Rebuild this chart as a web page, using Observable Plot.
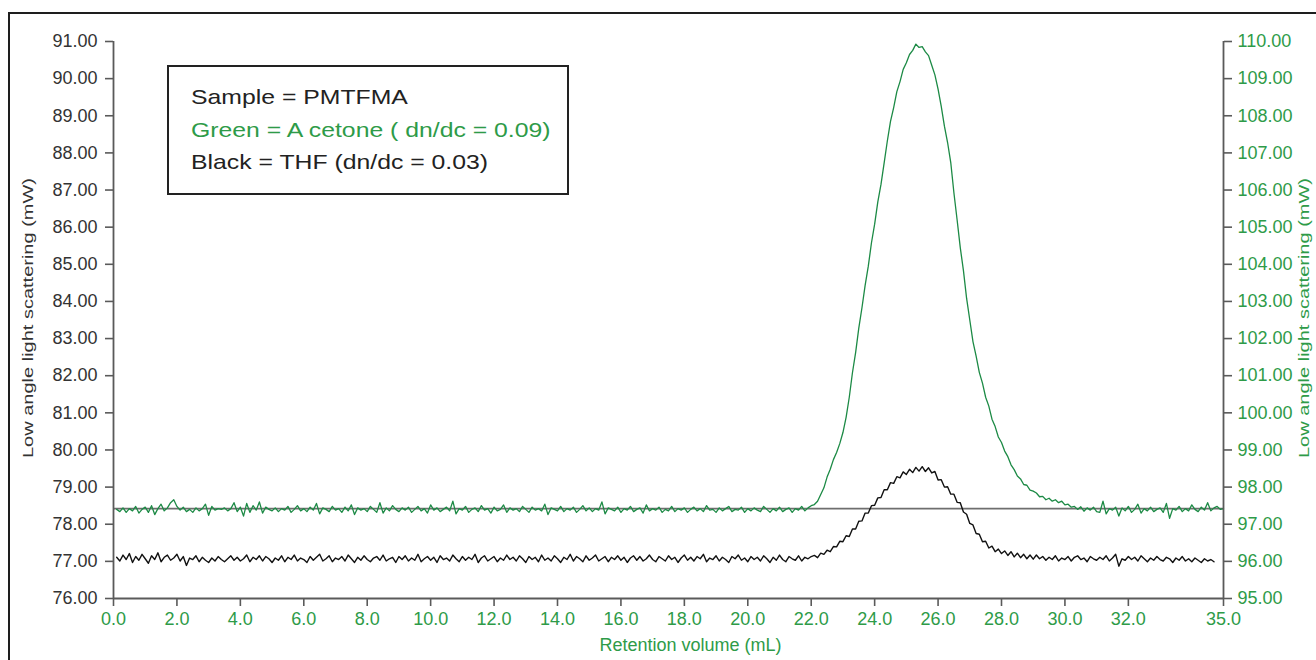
<!DOCTYPE html>
<html>
<head>
<meta charset="utf-8">
<script src="https://cdn.jsdelivr.net/npm/d3@7"></script>
<script src="https://cdn.jsdelivr.net/npm/@observablehq/plot@0.6"></script>
<style>
  html, body { margin: 0; padding: 0; background: #fff; overflow: hidden; width: 1316px; height: 660px; }
  #chart { position: absolute; left: 0; top: 0; }
  #frame { position: absolute; left: 8px; top: 12px; width: 2000px; height: 2000px; border: 2px solid #1e1e1e; pointer-events: none; }
  #legend { position: absolute; left: 167px; top: 65px; width: 398px; height: 126px; border: 2px solid #222;
            font-family: "Liberation Sans", Arial, sans-serif; font-size: 21px; padding: 0; box-sizing: content-box; background: #fff; }
  #legend div { position: absolute; left: 22px; height: 32px; line-height: 32px; white-space: nowrap; transform: scaleX(1.18); transform-origin: left center; }
</style>
</head>
<body>
<div id="chart"></div>
<div id="frame"></div>
<div id="legend"></div>
<script>
// ---- Data ----
const volumeStart = 0.1;   // mL, first sample
const volumeStep = 0.1;    // mL between samples

// Green trace: Acetone, right axis (mW)
const acetoneSignal = [
  97.40, 97.34, 97.44, 97.32, 97.42, 97.36, 97.48, 97.30, 97.40, 97.46,
  97.32, 97.50, 97.26, 97.42, 97.54, 97.36, 97.44, 97.58, 97.66, 97.48,
  97.38, 97.46, 97.34, 97.40, 97.32, 97.44, 97.36, 97.42, 97.54, 97.24,
  97.48, 97.38, 97.42, 97.40, 97.44, 97.36, 97.42, 97.58, 97.34, 97.46,
  97.22, 97.56, 97.32, 97.50, 97.38, 97.60, 97.30, 97.46, 97.40, 97.36,
  97.44, 97.34, 97.42, 97.38, 97.48, 97.32, 97.40, 97.50, 97.36, 97.42,
  97.34, 97.46, 97.38, 97.56, 97.28, 97.44, 97.40, 97.34, 97.48, 97.38,
  97.42, 97.32, 97.46, 97.36, 97.52, 97.26, 97.44, 97.38, 97.42, 97.34,
  97.48, 97.40, 97.32, 97.58, 97.30, 97.44, 97.36, 97.50, 97.40, 97.34,
  97.44, 97.38, 97.46, 97.32, 97.40, 97.48, 97.36, 97.42, 97.30, 97.52,
  97.38, 97.44, 97.34, 97.40, 97.46, 97.36, 97.62, 97.28, 97.42, 97.38,
  97.48, 97.32, 97.40, 97.44, 97.34, 97.50, 97.38, 97.42, 97.30, 97.46,
  97.36, 97.40, 97.52, 97.32, 97.44, 97.38, 97.42, 97.34, 97.48, 97.40,
  97.32, 97.46, 97.38, 97.42, 97.36, 97.54, 97.26, 97.44, 97.40, 97.36,
  97.48, 97.34, 97.42, 97.38, 97.46, 97.32, 97.40, 97.50, 97.36, 97.44,
  97.34, 97.42, 97.38, 97.60, 97.28, 97.44, 97.40, 97.36, 97.46, 97.32,
  97.42, 97.38, 97.48, 97.34, 97.40, 97.44, 97.30, 97.52, 97.36, 97.42,
  97.38, 97.46, 97.32, 97.40, 97.36, 97.48, 97.34, 97.42, 97.38, 97.44,
  97.32, 97.40, 97.46, 97.36, 97.42, 97.34, 97.50, 97.38, 97.40, 97.32,
  97.44, 97.36, 97.42, 97.48, 97.34, 97.40, 97.38, 97.46, 97.32, 97.42,
  97.36, 97.44, 97.38, 97.34, 97.48, 97.40, 97.32, 97.42, 97.36, 97.46,
  97.34, 97.40, 97.44, 97.32, 97.42, 97.38, 97.48, 97.36, 97.44, 97.50,
  97.53, 97.62, 97.80, 97.98, 98.27, 98.48, 98.74, 98.93, 99.17, 99.47,
  99.88, 100.42, 101.08, 101.62, 102.28, 102.83, 103.43, 103.95, 104.58, 105.08,
  105.68, 106.15, 106.73, 107.32, 107.85, 108.22, 108.65, 108.92, 109.25, 109.43,
  109.65, 109.76, 109.93, 109.84, 109.86, 109.72, 109.62, 109.36, 109.10, 108.72,
  108.25, 107.72, 107.28, 106.74, 105.92, 105.20, 104.45, 103.83, 103.08, 102.50,
  101.92, 101.53, 101.09, 100.80, 100.42, 100.18, 99.83, 99.63, 99.35, 99.20,
  98.97, 98.82, 98.60, 98.47, 98.30, 98.22, 98.07, 98.05, 97.92, 97.89,
  97.84, 97.74, 97.75, 97.66, 97.70, 97.62, 97.66, 97.58, 97.62, 97.52,
  97.54, 97.46, 97.48, 97.40, 97.47, 97.35, 97.44, 97.38, 97.46, 97.34,
  97.32, 97.62, 97.28, 97.42, 97.38, 97.46, 97.22, 97.44, 97.36, 97.48,
  97.32, 97.40, 97.54, 97.30, 97.42, 97.36, 97.46, 97.34, 97.40, 97.44,
  97.32, 97.56, 97.16, 97.42, 97.38, 97.48, 97.34, 97.42, 97.36, 97.52,
  97.40, 97.34, 97.46, 97.38, 97.58, 97.36, 97.44, 97.48, 97.40, 97.42
];

// Black trace: THF, left axis (mW)
const thfSignal = [
  77.11, 77.01, 77.17, 77.05, 77.21, 76.97, 77.13, 77.03, 77.19, 77.07,
  76.95, 77.15, 77.05, 77.23, 76.99, 77.11, 77.17, 77.03, 77.09, 77.19,
  77.01, 77.13, 76.89, 77.09, 77.05, 77.15, 76.99, 77.11, 77.03, 76.97,
  77.09, 77.01, 77.13, 77.05, 76.99, 77.07, 77.15, 77.03, 77.11, 77.01,
  77.07, 77.17, 76.99, 77.11, 77.05, 77.15, 77.01, 77.13, 77.07, 76.97,
  77.09, 77.03, 77.15, 76.99, 77.11, 77.05, 77.17, 77.01, 77.09, 77.05,
  76.97, 77.13, 77.03, 77.11, 77.19, 77.01, 77.07, 77.15, 76.99, 77.09,
  77.05, 77.13, 77.01, 77.17, 77.07, 76.97, 77.11, 77.03, 77.15, 77.05,
  76.99, 77.09, 77.13, 77.03, 77.17, 77.01, 77.07, 77.11, 76.97, 77.13,
  77.05, 77.15, 77.01, 77.09, 77.03, 77.19, 76.99, 77.07, 77.13, 77.03,
  77.11, 76.97, 77.15, 77.05, 77.09, 77.01, 77.17, 77.07, 76.99, 77.13,
  77.03, 77.11, 77.05, 77.19, 76.97, 77.09, 77.15, 77.01, 77.07, 77.13,
  76.99, 77.09, 77.03, 77.17, 77.05, 77.11, 77.01, 77.15, 77.07, 76.97,
  77.13, 77.05, 77.11, 76.99, 77.17, 77.03, 77.09, 77.01, 77.15, 77.07,
  76.97, 77.11, 77.05, 77.19, 77.01, 77.13, 77.07, 76.99, 77.15, 77.03,
  77.09, 77.17, 77.01, 77.07, 77.13, 76.99, 77.11, 77.05, 77.15, 77.03,
  77.11, 76.97, 77.09, 77.15, 77.03, 77.13, 77.01, 77.07, 77.17, 77.05,
  76.99, 77.13, 77.07, 77.01, 77.15, 77.05, 77.11, 76.97, 77.09, 77.17,
  77.03, 77.11, 77.01, 77.13, 77.07, 77.19, 76.99, 77.09, 77.05, 77.15,
  77.01, 77.11, 77.05, 76.97, 77.13, 77.07, 77.17, 77.03, 77.09, 76.99,
  77.13, 77.05, 77.11, 77.01, 77.15, 77.07, 76.97, 77.11, 77.03, 77.17,
  77.05, 76.99, 77.13, 77.07, 77.03, 77.15, 77.01, 77.11, 77.07, 77.13,
  77.16, 77.10, 77.22, 77.19, 77.30, 77.26, 77.40, 77.39, 77.54, 77.53,
  77.69, 77.67, 77.87, 77.87, 78.08, 78.09, 78.30, 78.30, 78.50, 78.51,
  78.71, 78.72, 78.93, 78.93, 79.12, 79.10, 79.28, 79.25, 79.41, 79.34,
  79.48, 79.39, 79.53, 79.43, 79.55, 79.42, 79.52, 79.38, 79.42, 79.19,
  79.20, 79.00, 79.01, 78.81, 78.81, 78.59, 78.58, 78.33, 78.27, 78.02,
  77.98, 77.75, 77.73, 77.53, 77.54, 77.36, 77.41, 77.26, 77.33, 77.21,
  77.28, 77.16, 77.26, 77.12, 77.22, 77.10, 77.19, 77.07, 77.17, 77.06,
  77.17, 77.07, 77.13, 77.03, 77.11, 77.05, 77.15, 77.01, 77.09, 77.05,
  77.13, 77.01, 77.11, 77.15, 77.05, 77.09, 76.99, 77.13, 77.07, 77.03,
  77.11, 77.05, 77.15, 77.01, 77.09, 77.19, 76.87, 77.07, 77.03, 77.13,
  77.05, 77.11, 77.01, 77.15, 77.07, 76.99, 77.09, 77.03, 77.13, 77.05,
  77.01, 77.11, 77.07, 76.97, 77.09, 77.03, 77.13, 77.01, 77.07, 76.99,
  77.09, 77.03, 76.97, 77.07, 77.01, 77.05, 76.99
];

const referenceLevel = 97.42;            // grey horizontal line (right axis, mW)
const leftDomain = [76, 91];
const rightDomain = [95, 110];
const xDomain = [0, 35];
const xTicks = [0, 2, 4, 6, 8, 10, 12, 14, 16, 18, 20, 22, 24, 26, 28, 30, 32, 35];
const leftTicks = [76, 77, 78, 79, 80, 81, 82, 83, 84, 85, 86, 87, 88, 89, 90, 91];
const rightTicks = [95, 96, 97, 98, 99, 100, 101, 102, 103, 104, 105, 106, 107, 108, 109, 110];
const xTitle = "Retention volume (mL)";
const yTitle = "Low angle light scattering (mW)";
const legendLines = [
  {text: "Sample = PMTFMA", color: "#222"},
  {text: "Green = A cetone ( dn/dc = 0.09)", color: "#2e9b48"},
  {text: "Black = THF (dn/dc = 0.03)", color: "#222"}
];

// ---- Build ----
const offset = rightDomain[0] - leftDomain[0];
const greenCol = "#1c8a45";
const labelGreen = "#2e9b48";
const axisGray = "#5a5a5a";
const font = "'Liberation Sans', Arial, sans-serif";

const acetone = acetoneSignal.map((v, i) => ({volume: volumeStart + i * volumeStep, signal: v - offset}));
const thf = thfSignal.map((v, i) => ({volume: volumeStart + i * volumeStep, signal: v}));

const chart = Plot.plot({
  width: 1316,
  height: 660,
  marginLeft: 113,
  marginRight: 93,
  marginTop: 41,
  marginBottom: 62,
  x: {domain: xDomain},
  y: {domain: leftDomain},
  style: {fontFamily: font, background: "transparent", overflow: "visible"},
  marks: [
    Plot.ruleY([referenceLevel - offset], {stroke: "#6e6e6e", strokeWidth: 1.6}),
    Plot.line(acetone, {x: "volume", y: "signal", stroke: greenCol, strokeWidth: 1.3}),
    Plot.line(thf, {x: "volume", y: "signal", stroke: "#111", strokeWidth: 1.4}),
    Plot.ruleX([xDomain[0]], {stroke: axisGray, strokeWidth: 1.8}),
    Plot.ruleX([xDomain[1]], {stroke: axisGray, strokeWidth: 1.8}),
    Plot.ruleY([leftDomain[0]], {stroke: axisGray, strokeWidth: 1.8}),
    Plot.axisY({anchor: "left", ticks: leftTicks, tickFormat: d => d.toFixed(2), tickSize: 8, tickPadding: 8,
      stroke: axisGray, strokeWidth: 1.6, color: "#333", fontSize: 18, label: null}),
    Plot.axisY({anchor: "right", ticks: rightTicks.map(t => t - offset), tickFormat: d => (d + offset).toFixed(2),
      tickSize: 8, tickPadding: 6, stroke: axisGray, strokeWidth: 1.6, color: labelGreen, fontSize: 18, label: null}),
    Plot.axisX({anchor: "bottom", ticks: xTicks, tickFormat: d => d.toFixed(1), tickSize: 8, tickPadding: 6,
      stroke: axisGray, strokeWidth: 1.6, color: labelGreen, fontSize: 18, label: null}),
    Plot.text([xTitle], {frameAnchor: "bottom", dx: 22, dy: 52, fill: labelGreen, fontSize: 18}),
    Plot.text([yTitle], {frameAnchor: "left", dx: -85, dy: 138, rotate: -90, textAnchor: "start", fill: "#333", fontSize: 14}),
    Plot.text([yTitle], {frameAnchor: "right", dx: 81, dy: 138, rotate: -90, textAnchor: "start", fill: labelGreen, fontSize: 14})
  ]
});
document.getElementById("chart").appendChild(chart);

d3.select(chart).selectAll("text")
  .filter(function() { return this.textContent === yTitle; })
  .attr("textLength", 280)
  .attr("lengthAdjust", "spacingAndGlyphs");

const legend = d3.select("#legend");
legendLines.forEach((l, i) => {
  legend.append("div")
    .style("top", (14 + i * 32.5) + "px")
    .style("color", l.color)
    .text(l.text);
});
</script>
</body>
</html>
